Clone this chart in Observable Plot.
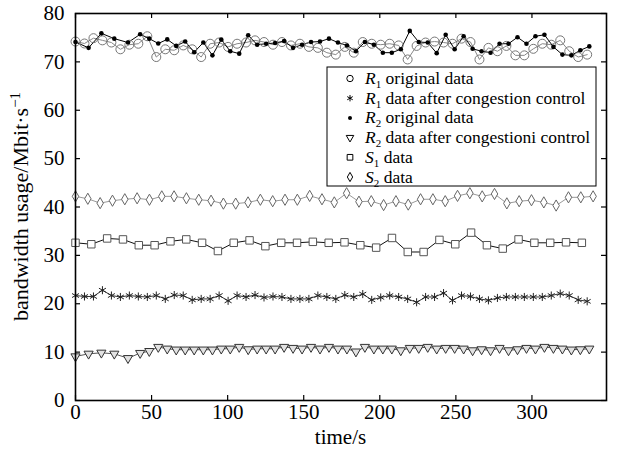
<!DOCTYPE html>
<html><head><meta charset="utf-8">
<script src="https://cdn.jsdelivr.net/npm/d3@7"></script>
<script src="https://cdn.jsdelivr.net/npm/@observablehq/plot@0.6"></script>
<style>body{margin:0;background:#fff}</style>
</head><body><div id="chart"></div>
<script>
// ---- data ----
const tR1 = [0, 5.9, 11.8, 17.7, 23.6, 29.5, 35.4, 41.3, 47.2, 53.1, 59, 64.9, 70.8, 76.7, 82.6, 88.5, 94.4, 100.3, 106.2, 112.1, 118, 123.9, 129.8, 135.7, 141.6, 147.5, 153.4, 159.3, 165.2, 171.1, 177, 182.9, 188.8, 194.7, 200.6, 206.5, 212.4, 218.3, 224.2, 230.1, 236, 241.9, 247.8, 253.7, 259.6, 265.5, 271.4, 277.3, 283.2, 289.1, 295, 300.9, 306.8, 312.7, 318.6, 324.5, 330.4, 336.3];
const r1Original = [74.2, 73.8, 74.9, 74.45, 74.0, 72.6, 73.55, 73.75, 75.3, 71.0, 72.6, 72.4, 73.4, 72.6, 71.0, 73.75, 74.0, 73.1, 73.75, 74.0, 74.45, 74.1, 73.55, 74.1, 73.4, 73.75, 73.1, 72.9, 71.9, 71.5, 73.1, 71.9, 74.1, 73.75, 73.55, 73.75, 73.4, 70.5, 73.3, 74.0, 74.2, 74.0, 73.75, 74.8, 74.1, 70.5, 72.9, 72.2, 73.3, 71.35, 71.35, 72.7, 73.75, 73.55, 74.45, 72.2, 71.0, 71.5];
const r1Controlled = [21.7, 21.5, 21.5, 22.8, 21.7, 21.4, 21.7, 21.5, 21.4, 21.7, 21.0, 21.8, 21.7, 20.8, 21.0, 21.0, 21.7, 20.6, 21.7, 21.4, 21.8, 21.3, 21.5, 21.4, 21.0, 21.0, 21.0, 21.7, 21.4, 21.0, 21.8, 21.4, 22.0, 20.8, 21.3, 21.7, 21.4, 21.0, 20.3, 21.4, 21.4, 22.2, 20.7, 21.7, 21.5, 21.0, 20.7, 21.2, 21.4, 21.4, 21.4, 21.4, 21.4, 21.7, 22.1, 21.7, 20.8, 20.5];
const tR2 = [0, 8.6, 17, 25.5, 34.5, 42.5, 48.5, 54.4, 60.3, 66.2, 72.1, 78, 84, 90, 95.8, 101.7, 107.6, 113.5, 119.4, 125.3, 131.2, 137.1, 143, 148.9, 154.8, 160.7, 166.6, 172.5, 178.4, 184.3, 190.2, 196.1, 202, 207.9, 213.8, 219.7, 225.6, 231.5, 237.4, 243.3, 249.2, 255.1, 261, 266.9, 272.8, 278.7, 284.6, 290.5, 296.4, 302.3, 308.2, 314.1, 320, 325.9, 331.8, 337.7];
const r2Original = [74.1, 72.9, 75.9, 74.8, 74.0, 75.7, 74.8, 73.8, 74.65, 73.3, 74.2, 72.0, 74.0, 71.35, 74.6, 72.2, 71.7, 75.5, 73.55, 73.75, 73.9, 74.3, 72.9, 73.55, 74.1, 74.2, 74.8, 74.0, 73.4, 72.2, 74.1, 73.55, 71.9, 71.9, 72.6, 76.4, 74.1, 74.0, 71.8, 75.6, 72.6, 75.3, 72.7, 72.2, 71.9, 73.75, 73.75, 75.1, 73.75, 75.3, 75.6, 73.1, 71.5, 71.35, 72.4, 73.2];
const r2Controlled = [9.1, 9.65, 9.86, 9.65, 8.74, 9.8, 10.2, 11.05, 10.7, 10.5, 10.5, 10.5, 10.5, 10.5, 10.7, 10.7, 11.05, 10.56, 10.7, 10.7, 10.7, 11.05, 10.84, 10.7, 11.05, 10.7, 11.05, 10.7, 10.7, 10.1, 11.05, 10.7, 10.7, 10.7, 10.35, 10.84, 10.84, 11.05, 10.7, 10.84, 10.84, 10.7, 10.35, 10.56, 10.35, 10.84, 10.35, 10.56, 10.84, 10.7, 11.05, 10.84, 10.7, 10.5, 10.56, 10.7];
const tS1 = [0, 10.4, 20.8, 31.2, 41.6, 52, 62.4, 72.8, 83.2, 93.6, 104, 114.4, 124.8, 135.2, 145.6, 156, 166.4, 176.8, 187.2, 197.6, 208, 218.4, 228.8, 239.2, 249.6, 260, 270.4, 280.8, 291.2, 301.6, 312, 322.4, 332.8];
const s1Data = [32.6, 32.3, 33.5, 33.3, 32.1, 32.1, 32.9, 33.3, 32.6, 30.9, 32.6, 33.1, 31.9, 32.6, 32.6, 32.8, 32.6, 32.7, 32.1, 31.6, 33.6, 30.7, 30.7, 33.2, 32.3, 34.7, 32.1, 31.4, 33.3, 32.6, 32.6, 32.7, 32.6];
const tS2 = [0, 8.1, 16.2, 24.3, 32.4, 40.5, 48.6, 56.7, 64.8, 72.9, 81, 89.1, 97.2, 105.3, 113.4, 121.5, 129.6, 137.7, 145.8, 153.9, 162, 170.1, 178.2, 186.3, 194.4, 202.5, 210.6, 218.7, 226.8, 234.9, 243, 251.1, 259.2, 267.3, 275.4, 283.5, 291.6, 299.7, 307.8, 315.9, 324, 332.1, 340.2];
const s2Data = [42.2, 41.7, 40.8, 41.3, 41.6, 41.8, 41.5, 42.2, 42.2, 41.8, 41.5, 41.3, 40.7, 40.7, 40.95, 41.5, 41.2, 41.5, 41.5, 42.3, 41.6, 40.95, 42.85, 41.1, 41.2, 40.4, 41.2, 40.5, 41.6, 41.6, 41.2, 42.3, 42.85, 42.2, 42.7, 40.75, 41.2, 41.4, 40.95, 40.3, 42.0, 42.0, 42.2];
const xTicks = [0, 50, 100, 150, 200, 250, 300];
const yTicks = [0, 10, 20, 30, 40, 50, 60, 70, 80];
const legendItems = [
  {key: "r1o", name: "R", sub: "1", text: " original data"},
  {key: "r1c", name: "R", sub: "1", text: " data after congestion control"},
  {key: "r2o", name: "R", sub: "2", text: " original data"},
  {key: "r2c", name: "R", sub: "2", text: " data after congestioni control"},
  {key: "s1", name: "S", sub: "1", text: " data"},
  {key: "s2", name: "S", sub: "2", text: " data"}
];

// ---- layout ----
const W = 618, H = 450, mL = 75, mR = 12, mT = 13, mB = 50;
const iw = W - mL - mR, ih = H - mT - mB;
const font = "'Liberation Serif', 'DejaVu Serif', serif";
const rows = (t, v) => t.map((x, i) => ({t: x, v: v[i]}));

const styles = {
  r1o: {symbol: "circle", r: 4.5, lr: 3.2, stroke: "#777", fill: "none", line: "#888"},
  r1c: {symbol: "asterisk", r: 3.8, lr: 3.0, stroke: "#222", fill: "none", line: "#333"},
  r2o: {symbol: "circle", r: 2.3, lr: 2.0, stroke: "none", fill: "#000", line: "#000"},
  r2c: {symbol: "triangle", r: 3.4, lr: 2.8, stroke: "#333", fill: "#e2e2e2", line: "#555", rotate: 180},
  s1: {symbol: "square", r: 4.2, lr: 3.2, stroke: "#555", fill: "#fff", line: "#111"},
  s2: {symbol: "diamond", r: 3.4, lr: 2.8, stroke: "#666", fill: "#fff", line: "#999"}
};
const series = {
  r1o: rows(tR1, r1Original), r1c: rows(tR1, r1Controlled),
  r2o: rows(tR2, r2Original), r2c: rows(tR2, r2Controlled),
  s1: rows(tS1, s1Data), s2: rows(tS2, s2Data)
};
const order = ["s2", "s1", "r2c", "r1c", "r1o", "r2o"];
const seriesMarks = [];
for (const k of order) {
  const s = styles[k];
  seriesMarks.push(Plot.line(series[k], {x: "t", y: "v", stroke: s.line, strokeWidth: 1}));
}
for (const k of order) {
  const s = styles[k];
  seriesMarks.push(Plot.dot(series[k], {x: "t", y: "v", symbol: s.symbol, r: s.r, stroke: s.stroke, fill: s.fill, strokeWidth: 1, rotate: s.rotate || 0}));
}

const chart = Plot.plot({
  width: W, height: H, marginLeft: mL, marginRight: mR, marginTop: mT, marginBottom: mB,
  style: {fontFamily: font, fontSize: "21px", background: "#fff", color: "#000", overflow: "visible"},
  x: {domain: [0, 349]},
  y: {domain: [0, 80]},
  marks: [
    ...seriesMarks,
    Plot.tickX(xTicks, {x: d => d, insetTop: ih - 5, stroke: "#000", strokeWidth: 1.2}),
    Plot.tickX(xTicks, {x: d => d, insetBottom: ih - 5, stroke: "#000", strokeWidth: 1.2}),
    Plot.tickY(yTicks, {y: d => d, insetRight: iw - 5, stroke: "#000", strokeWidth: 1.2}),
    Plot.tickY(yTicks, {y: d => d, insetLeft: iw - 5, stroke: "#000", strokeWidth: 1.2}),
    Plot.axisX(xTicks, {tickSize: 0, tickPadding: 4, fontSize: 21, label: null}),
    Plot.axisY(yTicks, {tickSize: 0, tickPadding: 11, fontSize: 21, label: null}),
    Plot.frame({stroke: "#000", strokeWidth: 1.6})
  ]
});
document.getElementById("chart").appendChild(chart);

// ---- axis titles & legend ----
const svg = d3.select(chart);
svg.append("text").attr("x", mL + iw / 2).attr("y", 444).attr("text-anchor", "middle")
  .attr("font-family", font).attr("font-size", 21).attr("fill", "#000").text("time/s");
const yl = svg.append("text").attr("transform", `translate(28,${mT + ih / 2}) rotate(-90)`)
  .attr("text-anchor", "middle").attr("font-family", font).attr("font-size", 22).attr("fill", "#000");
yl.append("tspan").text("bandwidth usage/Mbit·s");
yl.append("tspan").attr("dy", -8).attr("font-size", 15).text("−1");

const lg = svg.append("g").attr("text-anchor", "start");
lg.append("rect").attr("x", 327).attr("y", 67).attr("width", 269).attr("height", 119)
  .attr("fill", "#fff").attr("stroke", "#000").attr("stroke-width", 1);
const symMap = {circle: d3.symbolCircle, asterisk: d3.symbolAsterisk, triangle: d3.symbolTriangle, square: d3.symbolSquare, diamond: d3.symbolDiamond};
legendItems.forEach((it, i) => {
  const s = styles[it.key];
  const cy = 78.5 + i * 19.7;
  const rr = s.lr;
  lg.append("path").attr("d", d3.symbol(symMap[s.symbol], Math.PI * rr * rr)())
    .attr("transform", `translate(350,${cy}) rotate(${s.rotate || 0})`)
    .attr("fill", s.fill === "#000" ? "#000" : "#fff")
    .attr("stroke", s.stroke === "none" ? "none" : "#000").attr("stroke-width", 1);
  const t = lg.append("text").attr("x", 365).attr("y", cy + 5.5).attr("text-anchor", "start")
    .attr("font-family", font).attr("font-size", 17.5).attr("fill", "#000");
  t.append("tspan").attr("font-style", "italic").text(it.name);
  t.append("tspan").attr("font-size", 11).attr("dy", 4).text(it.sub);
  t.append("tspan").attr("dy", -4).text(it.text);
});
</script>
</body></html>
